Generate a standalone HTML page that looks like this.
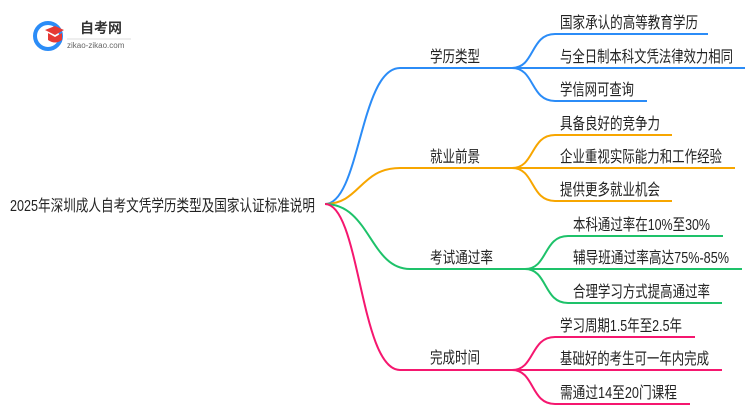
<!DOCTYPE html>
<html><head><meta charset="utf-8"><style>
body{margin:0;width:750px;height:410px;background:#fff;overflow:hidden;font-family:"Liberation Sans","Noto Sans CJK SC",sans-serif;}
svg text{font-family:"Liberation Sans","Noto Sans CJK SC",sans-serif;font-size:16px;fill:#222;}
</style></head><body>
<svg width="750" height="410" xmlns="http://www.w3.org/2000/svg">
<g fill="none" stroke-width="2">
<path d="M325 204 C360 204,360 68,400 68 L512 68" stroke="#2b8cf7"/>
<path d="M512 68 C535 68,530 34,555 34 L708 34 M512 68 L745 68 M512 68 C535 68,530 101,555 101 L647 101" stroke="#2b8cf7"/>
<path d="M325 204 C360 204,360 168,400 168 L512 168" stroke="#f7a600"/>
<path d="M512 168 C535 168,530 135,555 135 L672 135 M512 168 L735 168 M512 168 C535 168,530 201,555 201 L672 201" stroke="#f7a600"/>
<path d="M325 204 C370 204,370 269,410 269 L525 269" stroke="#1ec26a"/>
<path d="M525 269 C548 269,543 236,568 236 L723 236 M525 269 L742 269 M525 269 C548 269,543 303,568 303 L722 303" stroke="#1ec26a"/>
<path d="M325 204 C360 204,360 370,400 370 L512 370" stroke="#f5176f"/>
<path d="M512 370 C535 370,530 337,555 337 L695 337 M512 370 L722 370 M512 370 C535 370,530 404,555 404 L690 404" stroke="#f5176f"/>
</g>
<g>
<text x="10" y="211" textLength="305" lengthAdjust="spacingAndGlyphs">2025年深圳成人自考文凭学历类型及国家认证标准说明</text>
<text x="430" y="62" textLength="50" lengthAdjust="spacingAndGlyphs">学历类型</text>
<text x="430" y="162" textLength="50" lengthAdjust="spacingAndGlyphs">就业前景</text>
<text x="430" y="263" textLength="63" lengthAdjust="spacingAndGlyphs">考试通过率</text>
<text x="430" y="363" textLength="50" lengthAdjust="spacingAndGlyphs">完成时间</text>
<text x="560" y="28" textLength="138" lengthAdjust="spacingAndGlyphs">国家承认的高等教育学历</text>
<text x="560" y="62" textLength="173" lengthAdjust="spacingAndGlyphs">与全日制本科文凭法律效力相同</text>
<text x="560" y="95" textLength="74" lengthAdjust="spacingAndGlyphs">学信网可查询</text>
<text x="560" y="129" textLength="100" lengthAdjust="spacingAndGlyphs">具备良好的竞争力</text>
<text x="560" y="162" textLength="162" lengthAdjust="spacingAndGlyphs">企业重视实际能力和工作经验</text>
<text x="560" y="195" textLength="100" lengthAdjust="spacingAndGlyphs">提供更多就业机会</text>
<text x="573" y="230" textLength="137" lengthAdjust="spacingAndGlyphs">本科通过率在10%至30%</text>
<text x="573" y="263" textLength="156" lengthAdjust="spacingAndGlyphs">辅导班通过率高达75%-85%</text>
<text x="573" y="297" textLength="137" lengthAdjust="spacingAndGlyphs">合理学习方式提高通过率</text>
<text x="560" y="331" textLength="122" lengthAdjust="spacingAndGlyphs">学习周期1.5年至2.5年</text>
<text x="560" y="364" textLength="149" lengthAdjust="spacingAndGlyphs">基础好的考生可一年内完成</text>
<text x="560" y="398" textLength="117" lengthAdjust="spacingAndGlyphs">需通过14至20门课程</text>
</g>
<circle cx="48" cy="36" r="13" fill="none" stroke="#2b8cf7" stroke-width="4"/>
<path d="M45 30 L55 26 L64 30 L55 35 Z" fill="#e53935"/>
<path d="M48 33 L48 40 Q55 45 62 40 L62 33 L55 37 Z" fill="#e53935"/>
<text x="80" y="33" style="font-size:14px;font-weight:bold;fill:#333">自考网</text>
<line x1="67" y1="39" x2="131" y2="39" stroke="#ddd"/>
<text x="67" y="48" style="font-size:8px;fill:#666">zikao-zikao.com</text>
</svg>
</body></html>
